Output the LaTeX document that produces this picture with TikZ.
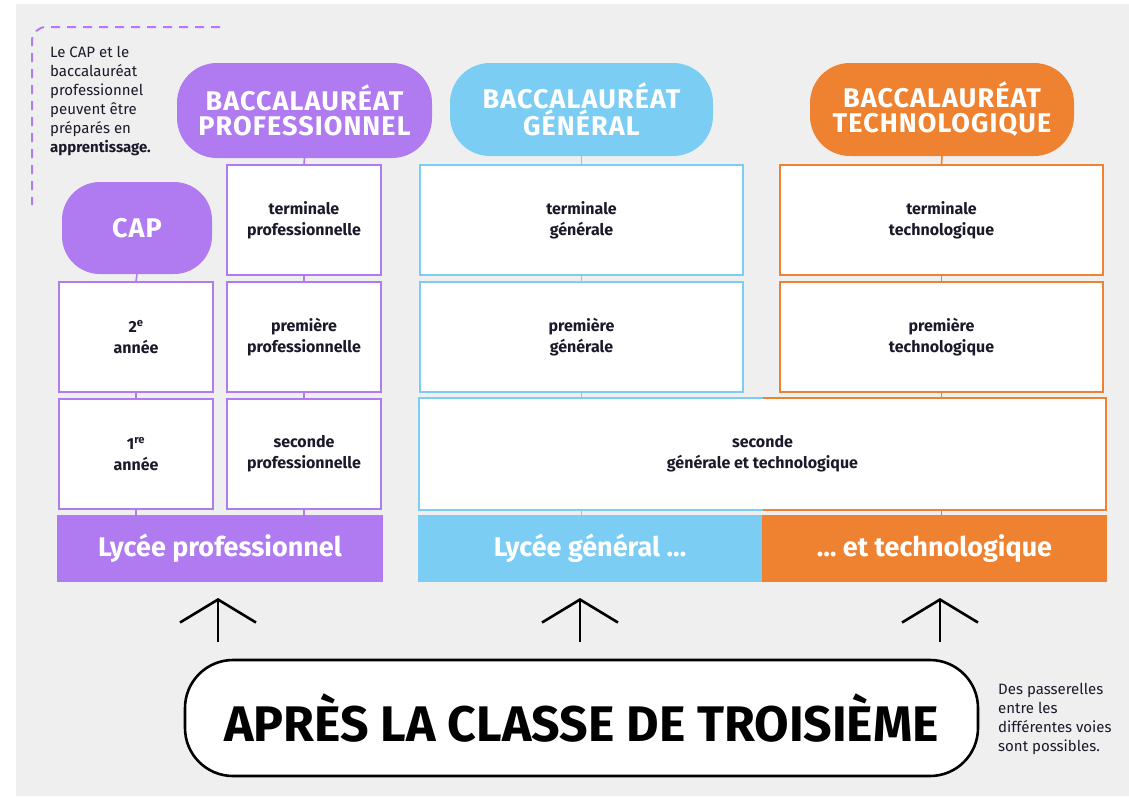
\documentclass[tikz,border=0pt]{standalone}
\usepackage{fontspec}
\setmainfont{Fira Sans}
\newfontfamily\headf[LetterSpace=4]{Fira Sans}
\usetikzlibrary{arrows.meta}
\definecolor{bg}{HTML}{EFEFEF}
\definecolor{pro}{HTML}{B07AF0}
\definecolor{gen}{HTML}{7CCDF4}
\definecolor{tec}{HTML}{EF8230}
\definecolor{ink}{HTML}{1A1A2A}
\tikzset{
  pill/.style={fill=#1, rounded corners=40pt, inner sep=0pt, text=white,
    font=\headf\bfseries\fontsize{27}{25}\selectfont, align=center},
  yearbox/.style={draw=#1, line width=1.6pt, fill=white, inner sep=0pt,
    text=ink, font=\bfseries\fontsize{16}{21}\selectfont, align=center},
  bar/.style={fill=#1, inner sep=0pt, text=white,
    font=\bfseries\fontsize{27}{28}\selectfont},
  link/.style={draw=#1, line width=1.6pt},
  up/.style={line width=2.6pt, -{Straight Barb[length=23pt,width=76pt,line width=2.6pt]}},
  note/.style={anchor=north west, align=left, inner sep=0pt, text=ink,
    font=\fontsize{15}{19}\selectfont}
}
\begin{document}
\begin{tikzpicture}[x=1pt,y=-1pt]
\useasboundingbox (0,0) rectangle (1129,796);
\fill[white] (0,0) rectangle (1129,796);
\fill[bg] (16,4) rectangle (1129,796);

% dashed bracket + note
\draw[pro, line width=2pt, dash pattern=on 9pt off 7pt, rounded corners=14pt]
  (220,27) -- (32,27) -- (32,205);
\node[note] (noteL) at (50,46) {Le CAP et le\\baccalauréat\\professionnel\\peuvent être\\préparés en\\\textbf{apprentissage.}};

% top pills
\node[pill=pro, minimum width=255pt, minimum height=95pt] (bpro) at (304.5,110.5) {BACCALAURÉAT\\PROFESSIONNEL};
\node[pill=gen, minimum width=263pt, minimum height=93pt] (bgen) at (581.5,109.5) {BACCALAURÉAT\\GÉNÉRAL};
\node[pill=tec, minimum width=264pt, minimum height=93pt] (btec) at (942,109.5) {BACCALAURÉAT\\TECHNOLOGIQUE};
\node[pill=pro, minimum width=150pt, minimum height=92pt, rounded corners=38pt] (cap) at (137,228) {CAP};

% CAP column
\node[yearbox=pro, minimum width=154pt, minimum height=110pt] (cap2) at (136,337) {2\textsuperscript{e}\\année};
\node[yearbox=pro, minimum width=154pt, minimum height=110pt] (cap1) at (136,454) {1\textsuperscript{re}\\année};
% pro column
\node[yearbox=pro, minimum width=154pt, minimum height=110pt] (pterm) at (304,220) {terminale\\professionnelle};
\node[yearbox=pro, minimum width=154pt, minimum height=110pt] (pprem) at (304,337) {première\\professionnelle};
\node[yearbox=pro, minimum width=154pt, minimum height=110pt] (psec) at (304,454) {seconde\\professionnelle};
% general column
\node[yearbox=gen, minimum width=323pt, minimum height=110pt] (gterm) at (581.5,220) {terminale\\générale};
\node[yearbox=gen, minimum width=323pt, minimum height=110pt] (gprem) at (581.5,337) {première\\générale};
% techno column
\node[yearbox=tec, minimum width=323pt, minimum height=110pt] (tterm) at (941.5,220) {terminale\\technologique};
\node[yearbox=tec, minimum width=323pt, minimum height=110pt] (tprem) at (941.5,337) {première\\technologique};
% seconde GT (two-colour border)
\node[yearbox=white, draw=none, minimum width=685pt, minimum height=110pt] (gtsec) at (762.5,454) {seconde\\générale et technologique};
\draw[gen, line width=1.6pt] (gtsec.north) -- (gtsec.north west) -- (gtsec.south west) -- (gtsec.south);
\draw[tec, line width=1.6pt] (gtsec.north) -- (gtsec.north east) -- (gtsec.south east) -- (gtsec.south);

% bars
\node[bar=pro, minimum width=326pt, minimum height=67pt] (lpro) at (220,548.5) {Lycée professionnel};
\node[bar=gen, minimum width=344pt, minimum height=67pt] (lgen) at (590,548.5) {Lycée général …};
\node[bar=tec, minimum width=345pt, minimum height=67pt] (ltec) at (934.5,548.5) {… et technologique};

% links
\draw[link=pro] (cap.south) -- (cap2.north);
\draw[link=pro] (cap2.south) -- (cap1.north);
\draw[link=pro] (cap1.south) -- (cap1.south |- lpro.north);
\draw[link=pro] (bpro.south) -- (pterm.north);
\draw[link=pro] (pterm.south) -- (pprem.north);
\draw[link=pro] (pprem.south) -- (psec.north);
\draw[link=pro] (psec.south) -- (psec.south |- lpro.north);
\draw[link=gen] (bgen.south) -- (gterm.north);
\draw[link=gen] (gterm.south) -- (gprem.north);
\draw[link=gen] (gprem.south) -- (gprem.south |- gtsec.north);
\draw[link=gen] (gprem.south |- gtsec.south) -- (gprem.south |- lgen.north);
\draw[link=tec] (btec.south) -- (tterm.north);
\draw[link=tec] (tterm.south) -- (tprem.north);
\draw[link=tec] (tprem.south) -- (tprem.south |- gtsec.north);
\draw[link=tec] (tprem.south |- gtsec.south) -- (tprem.south |- ltec.north);

% bottom pill
\node[draw=black, line width=2.6pt, fill=white, rounded corners=48pt, inner sep=0pt,
  minimum width=793pt, minimum height=116pt,
  font=\bfseries\fontsize{50}{50}\selectfont] (apres) at (581.5,718) {APRÈS LA CLASSE DE TROISIÈME};

% arrows
\coordinate (a1s) at (218,642); \coordinate (a1e) at (218,598);
\coordinate (a2s) at (580,642); \coordinate (a2e) at (580,598);
\coordinate (a3s) at (940,642); \coordinate (a3e) at (940,598);
\draw[up] (a1s) -- (a1e);
\draw[up] (a2s) -- (a2e);
\draw[up] (a3s) -- (a3e);

\node[note] (noteR) at (998,683) {Des passerelles\\entre les\\différentes voies\\sont possibles.};
\end{tikzpicture}
\end{document}
